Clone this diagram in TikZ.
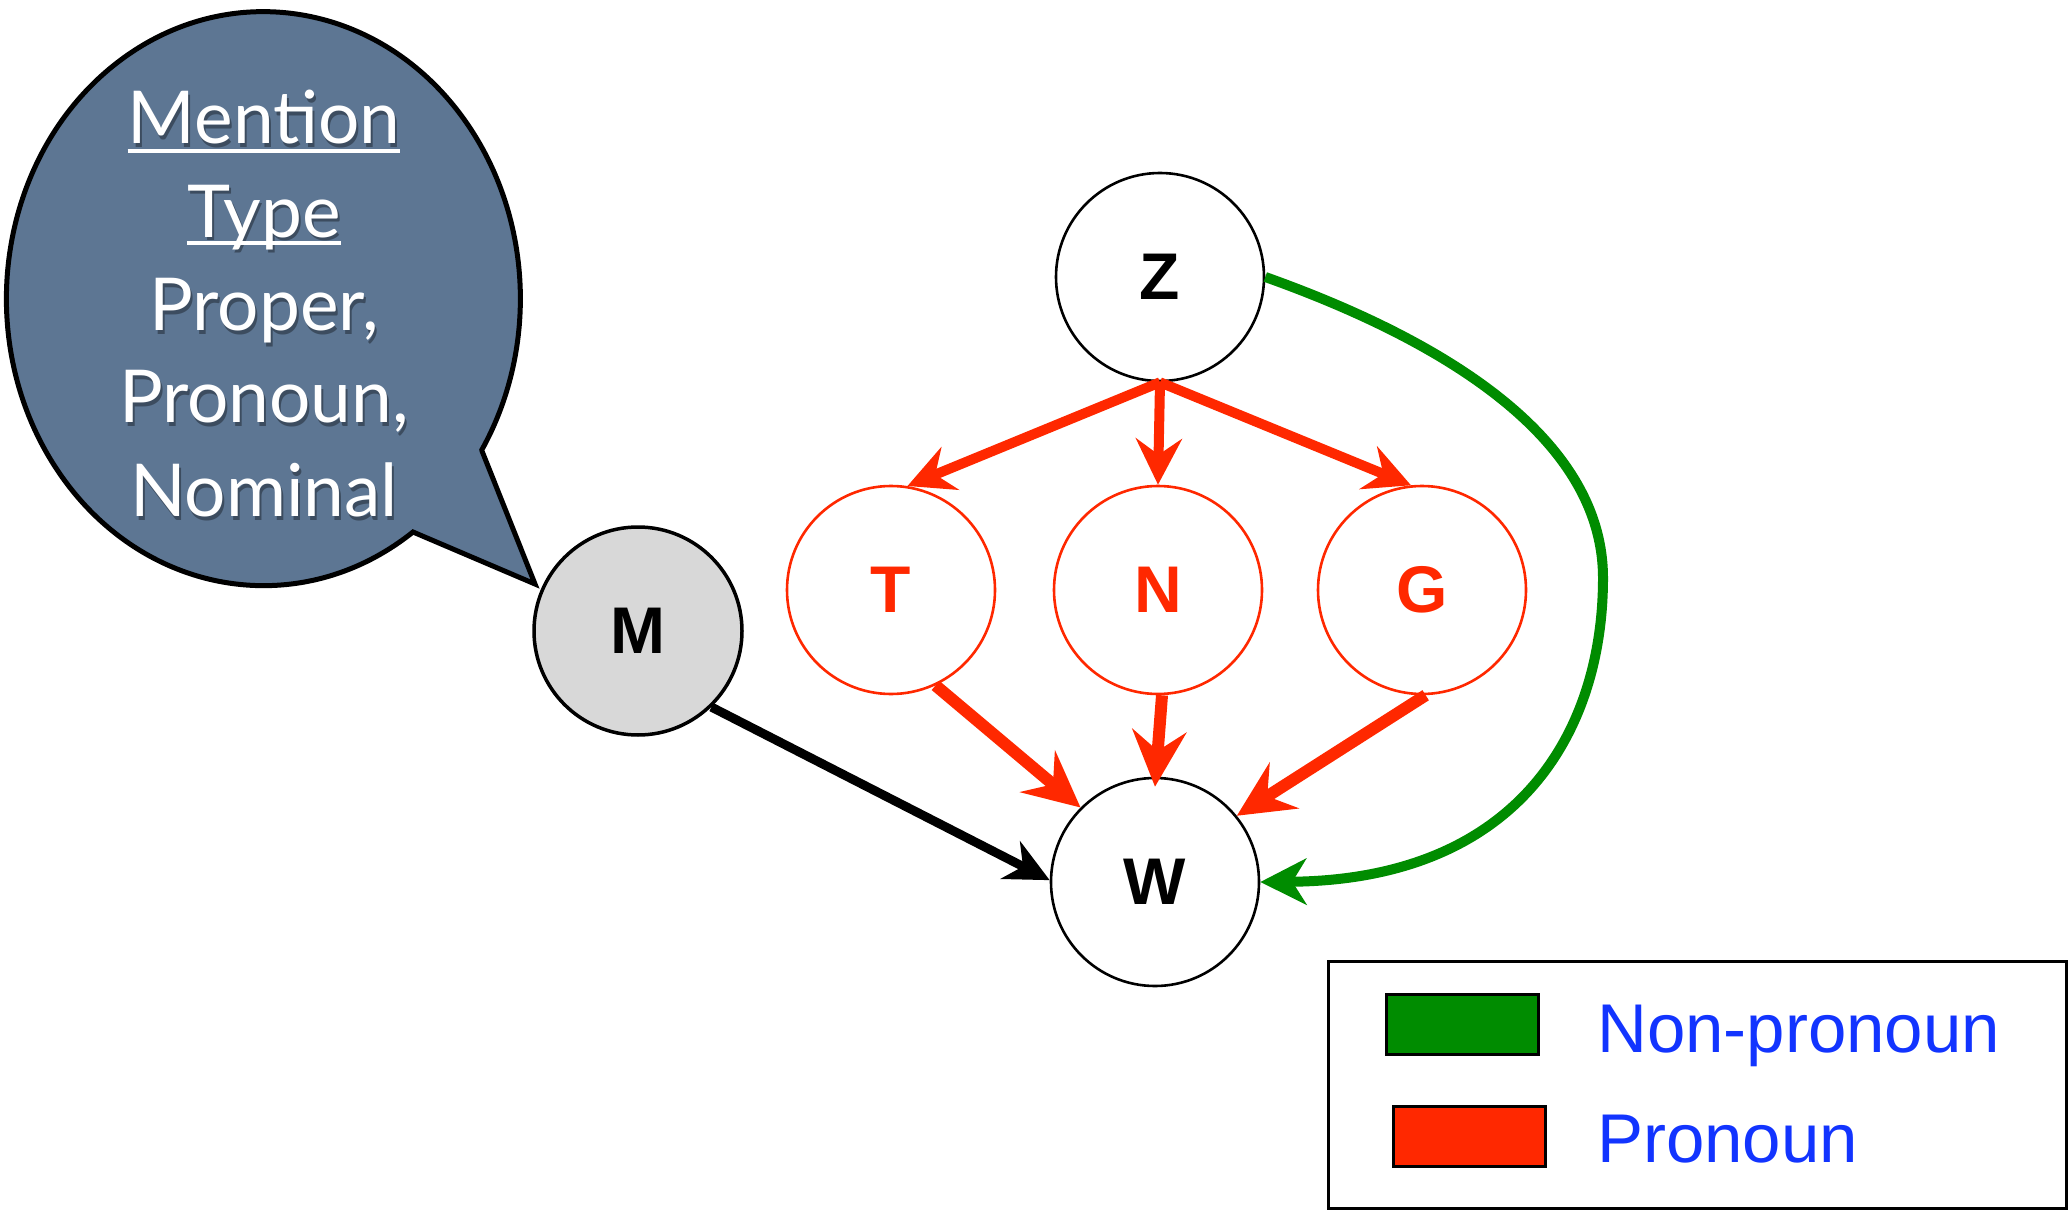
\documentclass[tikz,border=0pt]{standalone}
\usepackage{fontspec}
\setmainfont{Liberation Sans}
\newfontfamily\bubblefont{Lato}
\usetikzlibrary{arrows.meta}
\definecolor{pred}{RGB}{255,40,0}
\definecolor{pgreen}{RGB}{0,140,0}
\definecolor{pblue}{RGB}{18,52,255}
\definecolor{bubblefill}{RGB}{93,118,147}
\definecolor{mgray}{RGB}{216,216,216}
\begin{document}
\begin{tikzpicture}[x=1pt,y=1pt,
  var/.style={circle, draw=black, line width=2.6pt, minimum size=208pt, inner sep=0pt,
    font=\fontsize{66}{66}\selectfont\bfseries},
  redvar/.style={var, draw=pred, text=pred},
  obsvar/.style={var, fill=mgray, line width=3.5pt},
  redtop/.style={draw=pred, line width=10pt, -{Stealth[length=46pt,width=46pt,inset=16pt]}},
  redbot/.style={draw=pred, line width=12pt, -{Stealth[length=56pt,width=54pt,inset=20pt]}},
  blackarr/.style={draw=black, line width=9pt, -{Stealth[length=44pt,width=42pt,inset=14pt]}},
  greenarr/.style={draw=pgreen, line width=10pt, -{Stealth[length=46pt,width=46pt,inset=14pt]}},
  btext/.style={text=white, inner sep=0pt, anchor=base, font=\bubblefont\fontsize{73}{73}\selectfont},
  bshadow/.style={btext, text=black, opacity=0.35},
  legtext/.style={text=pblue, inner sep=0pt, anchor=base west, font=\fontsize{69}{69}\selectfont},
  swatch/.style={draw=black, line width=3pt, minimum width=152pt, minimum height=60pt, inner sep=0pt},
]
\useasboundingbox (0,0) rectangle (2070,-1217);

% speech bubble
\path[draw=black, line width=5pt, fill=bubblefill, line join=miter]
  (482,-451) -- (535,-584) -- (413,-532)
  arc[start angle=-54.4, end angle=-391.8, x radius=257, y radius=287] -- cycle;

\node[bshadow] at (266,-148) {Mention};
\node[bshadow] at (266,-241) {Type};
\node[bshadow] at (266,-334) {Proper,};
\node[bshadow] at (266,-426) {Pronoun,};
\node[bshadow] at (266,-520) {Nominal};
\node[btext] (l1) at (264,-144) {Mention};
\node[btext] (l2) at (264,-237) {Type};
\node[btext] (l3) at (264,-330) {Proper,};
\node[btext] (l4) at (264,-422) {Pronoun,};
\node[btext] (l5) at (264,-516) {Nominal};
\draw[white, line width=3.5pt] ([yshift=-7pt]l1.base west) -- ([yshift=-7pt]l1.base east);
\draw[white, line width=3.5pt] ([yshift=-6pt]l2.base west) -- ([yshift=-6pt]l2.base east);

% nodes
\node[var] (Z) at (1160,-277) {Z};
\node[redvar] (T) at (891,-590) {T};
\node[redvar] (N) at (1158,-590) {N};
\node[redvar] (G) at (1422,-590) {G};
\node[var] (W) at (1155,-882) {W};
\node[obsvar] (M) at (638,-631) {M};

% edges
\draw[redtop] (Z.south) -- (T.81);
\draw[redtop] (Z.south) -- (N.north);
\draw[redtop] (Z.south) -- (G.96);
\draw[redbot] (T.-65) -- (W.135);
\draw[redbot] ([xshift=4pt]N.south) -- ([yshift=-10pt]W.north);
\draw[redbot] (G.-88) -- (W.39);
\draw[blackarr] (M.-46) -- (W.179);
\draw[greenarr] (Z.east) .. controls (1400,-325) and (1603,-420) .. (1603,-578)
  .. controls (1603,-730) and (1520,-880) .. (W.east);

% legend
\node[draw=black, line width=3pt, minimum width=738pt, minimum height=247pt, inner sep=0pt] (leg) at (1697,-1084.5) {};
\node[swatch, fill=pgreen] (s1) at (1462,-1024) {};
\node[swatch, fill=pred] (s2) at (1469,-1136) {};
\node[legtext] (t1) at (1597,-1052) {Non-pronoun};
\node[legtext] (t2) at (1597,-1162) {Pronoun};
\end{tikzpicture}
\end{document}
